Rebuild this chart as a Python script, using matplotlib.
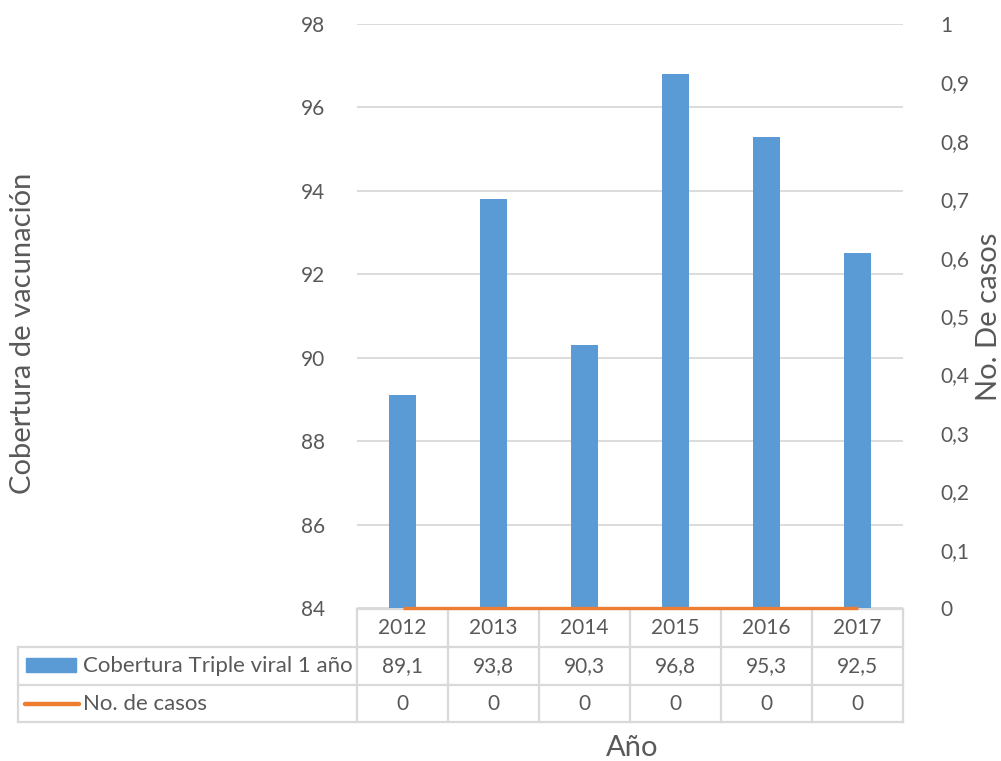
import matplotlib
matplotlib.use("Agg")
import matplotlib.pyplot as plt
from matplotlib.lines import Line2D
from matplotlib.patches import Rectangle
from matplotlib.transforms import blended_transform_factory

years = ["2012", "2013", "2014", "2015", "2016", "2017"]
cobertura = [89.1, 93.8, 90.3, 96.8, 95.3, 92.5]
casos = [0, 0, 0, 0, 0, 0]
series_names = ["Cobertura Triple viral 1 año", "No. de casos"]
left_ticks = [84, 86, 88, 90, 92, 94, 96, 98]
right_ticks = [0, 0.1, 0.2, 0.3, 0.4, 0.5, 0.6, 0.7, 0.8, 0.9, 1.0]

BLUE = "#5b9bd5"
ORANGE = "#ed7d31"
TXT = "#595959"
GRID = "#d9d9d9"
FONT = "Lato"

W, H = 1001, 761
fig = plt.figure(figsize=(W / 100, H / 100), dpi=100)
plt.rcParams['font.family'] = [FONT, 'DejaVu Sans']

def fx(px):
    return px / W

def fy(py):
    return 1 - py / H

x0, x1, ytop, ybot = 357, 903, 24, 608
ax = fig.add_axes([fx(x0), fy(ybot), fx(x1 - x0), (ybot - ytop) / H])
xs = list(range(len(years)))
ax.bar(xs, cobertura, width=0.3, color=BLUE, zorder=3)
ax.set_xlim(-0.5, len(years) - 0.5)
ax.set_ylim(84, 98)
ax.set_yticks(left_ticks)
ax.set_yticklabels([str(t) for t in left_ticks])
ax.set_xticks([])
ax.grid(axis="y", color=GRID, linewidth=1.3, zorder=0)
for s in ax.spines.values():
    s.set_visible(False)
ax.tick_params(axis="y", length=0, pad=23, labelsize=15, labelcolor=TXT)

ax2 = ax.twinx()
ax2.plot(xs, casos, color=ORANGE, linewidth=2.4, solid_capstyle="butt", zorder=4, clip_on=False)
ax2.set_ylim(0, 1)
ax2.set_yticks(right_ticks)
ax2.set_yticklabels([("%.1f" % t).replace(".", ",") if 0 < t < 1 else str(int(t)) for t in right_ticks])
for s in ax2.spines.values():
    s.set_visible(False)
ax2.tick_params(axis="y", length=0, pad=27, labelsize=15, labelcolor=TXT)

# axis titles
fig.text(fx(23), fy(333), "Cobertura de vacunación", rotation=90, ha="center", va="center",
         fontsize=21, color=TXT)
fig.text(fx(989), fy(317), "No. De casos", rotation=90, ha="center", va="center",
         fontsize=21, color=TXT)
fig.text(fx(632), fy(748), "Año", ha="center", va="center", fontsize=21, color=TXT)

# data table
tr = blended_transform_factory(ax.transData, fig.transFigure)
rows = [609, 647, 685, 722]
tl = 18
lw = 1.6

def hline(xa, xb, y):
    fig.add_artist(Line2D([fx(xa), fx(xb)], [fy(y), fy(y)], color=GRID, lw=lw,
                          transform=fig.transFigure, zorder=-1))

def vline(x, ya, yb):
    fig.add_artist(Line2D([fx(x), fx(x)], [fy(ya), fy(yb)], color=GRID, lw=lw,
                          transform=fig.transFigure, zorder=-1))

hline(x0, x1, rows[0])
for r in rows[1:]:
    hline(tl, x1, r)
vline(tl, rows[1], rows[3])
for i in range(len(years) + 1):
    fig.add_artist(Line2D([i - 0.5, i - 0.5], [fy(rows[0]), fy(rows[3])], color=GRID, lw=lw,
                          transform=tr, zorder=-1))

def fmt(v):
    return ("%g" % v).replace(".", ",")

for i, yr in enumerate(years):
    fig.text(i, fy((rows[0] + rows[1]) / 2), yr, ha="center", va="center", fontsize=15, color=TXT, transform=tr)
    fig.text(i, fy((rows[1] + rows[2]) / 2), fmt(cobertura[i]), ha="center", va="center", fontsize=15, color=TXT, transform=tr)
    fig.text(i, fy((rows[2] + rows[3]) / 2), fmt(casos[i]), ha="center", va="center", fontsize=15, color=TXT, transform=tr)

# legend keys
fig.add_artist(Rectangle((fx(26), fy(672)), fx(50), 14 / H, color=BLUE, transform=fig.transFigure))
fig.add_artist(Line2D([fx(25), fx(79)], [fy(703.5), fy(703.5)], color=ORANGE, lw=3.2,
                      solid_capstyle="round", transform=fig.transFigure))
fig.text(fx(83), fy((rows[1] + rows[2]) / 2), series_names[0], ha="left", va="center", fontsize=16, color=TXT)
fig.text(fx(83), fy((rows[2] + rows[3]) / 2), series_names[1], ha="left", va="center", fontsize=16, color=TXT)

fig.savefig("out.png", dpi=100, facecolor="white")
